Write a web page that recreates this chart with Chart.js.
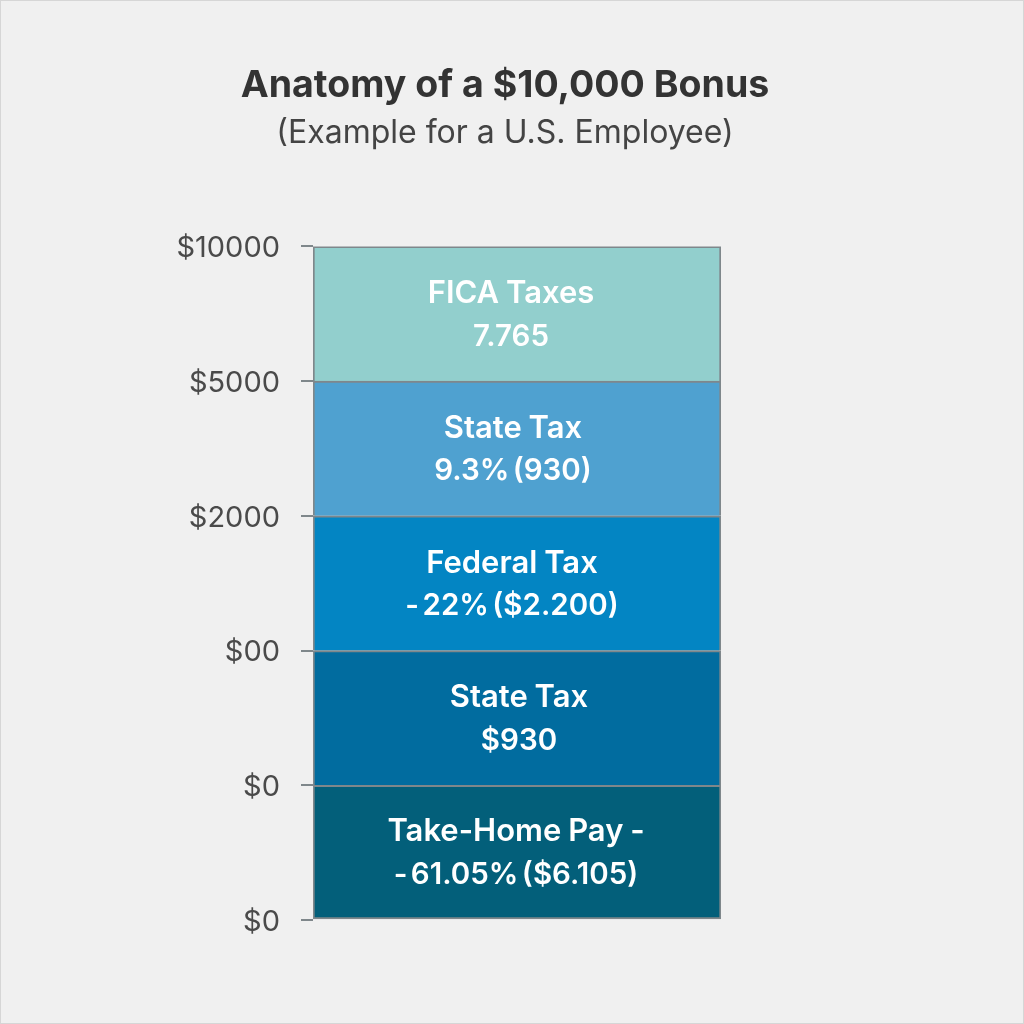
<!DOCTYPE html>
<html>
<head>
<meta charset="utf-8">
<title>Anatomy of a $10,000 Bonus</title>
<script src="https://cdn.jsdelivr.net/npm/chart.js@4"></script>
<style>
    html, body { margin: 0; padding: 0; background: #f0f0f0; }
    #wrap { width: 1024px; height: 1024px; box-shadow: inset 0 0 0 1px #d6d6d6; }
</style>
</head>
<body>
<div id="wrap"><canvas id="bonusChart" width="1024" height="1024"></canvas></div>
<script>
// Data, bottom segment first. The bands are all the same height in the picture
const categories = ['Bonus'];
const segmentNames = ['Take-Home Pay', 'State Tax', 'Federal Tax', 'State Tax (rate)', 'FICA Taxes'];
const segmentHeights = [1, 1, 1, 1, 1];
const segmentColors = ['#035f7a', '#016c9f', '#0385c3', '#4fa1d0', '#92cfcd'];
const segmentLabels = [
    ['Take-Home Pay -', '- 61.05% ($6.105)'],
    ['State Tax', '$930'],
    ['Federal Tax', '- 22% ($2.200)'],
    ['State Tax', '9.3% (930)'],
    ['FICA Taxes', '7.765']
];
const tickLabels = ['$0', '$0', '$00', '$2000', '$5000', '$10000'];

const FONT = 'Inter, "Noto Sans", sans-serif';
const LINE_COLOR = '#7f878b';
// text is not quite centred in the bands, shift in px from the bar centre
const LABEL_SHIFT = [-1, 2, -5, -4, -6];

// Two lines of white text in the middle of each segment
const segmentTextPlugin = {
    id: 'segmentText',
    afterDatasetsDraw(chart) {
        const ctx = chart.ctx;
        ctx.save();
        ctx.fillStyle = '#ffffff';
        ctx.textAlign = 'center';
        ctx.textBaseline = 'middle';
        chart.data.datasets.forEach((ds, i) => {
            const bar = chart.getDatasetMeta(i).data[0];
            const mid = (bar.y + bar.base) / 2;
            const [first, second] = segmentLabels[i];
            const x = bar.x + LABEL_SHIFT[i];
            ctx.font = '600 31px ' + FONT;
            ctx.wordSpacing = '-1px';
            ctx.fillText(first, x, mid - 20);
            ctx.font = '600 29.5px ' + FONT;
            ctx.wordSpacing = '-4px';
            ctx.fillText(second, x, mid + 23);
        });
        ctx.restore();
    }
};

new Chart(document.getElementById('bonusChart').getContext('2d'), {
    type: 'bar',
    data: {
        labels: categories,
        datasets: segmentHeights.map((h, i) => ({
            label: segmentNames[i],
            data: [h],
            backgroundColor: segmentColors[i],
            borderColor: LINE_COLOR,
            borderWidth: { top: 2, left: 2, right: 2, bottom: i === 0 ? 2 : 0 },
            borderSkipped: false,
            barPercentage: 1,
            categoryPercentage: 1
        }))
    },
    options: {
        responsive: false,
        animation: false,
        layout: { padding: { left: 0, right: 14, top: 0, bottom: 104 } },
        plugins: {
            legend: { display: false },
            tooltip: { enabled: false },
            title: {
                display: true,
                text: 'Anatomy of a $10,000 Bonus',
                color: '#333333',
                font: { family: FONT, size: 37.5, weight: '700' },
                padding: { top: 63, bottom: 6 }
            },
            subtitle: {
                display: true,
                text: '(Example for a U.S. Employee)',
                color: '#444444',
                font: { family: FONT, size: 32, weight: '400' },
                padding: { top: 0, bottom: 94 }
            }
        },
        scales: {
            x: { stacked: true, display: false },
            y: {
                stacked: true,
                min: 0,
                max: 5,
                afterFit(scale) { scale.width = 313; },
                border: { display: false },
                grid: { color: LINE_COLOR, lineWidth: 2, drawOnChartArea: false, tickLength: 12 },
                ticks: {
                    stepSize: 1,
                    padding: 21,
                    labelOffset: 2,
                    color: '#4a4a4a',
                    font: { family: FONT, size: 29 },
                    callback: (value) => tickLabels[value]
                }
            },
            // empty axis, only holds the space right of the bar so the title stays centred on the page
            spacer: {
                position: 'right',
                display: true,
                afterFit(scale) { scale.width = 289; },
                border: { display: false },
                grid: { display: false },
                ticks: { display: false }
            }
        }
    },
    plugins: [segmentTextPlugin]
});
</script>
</body>
</html>
